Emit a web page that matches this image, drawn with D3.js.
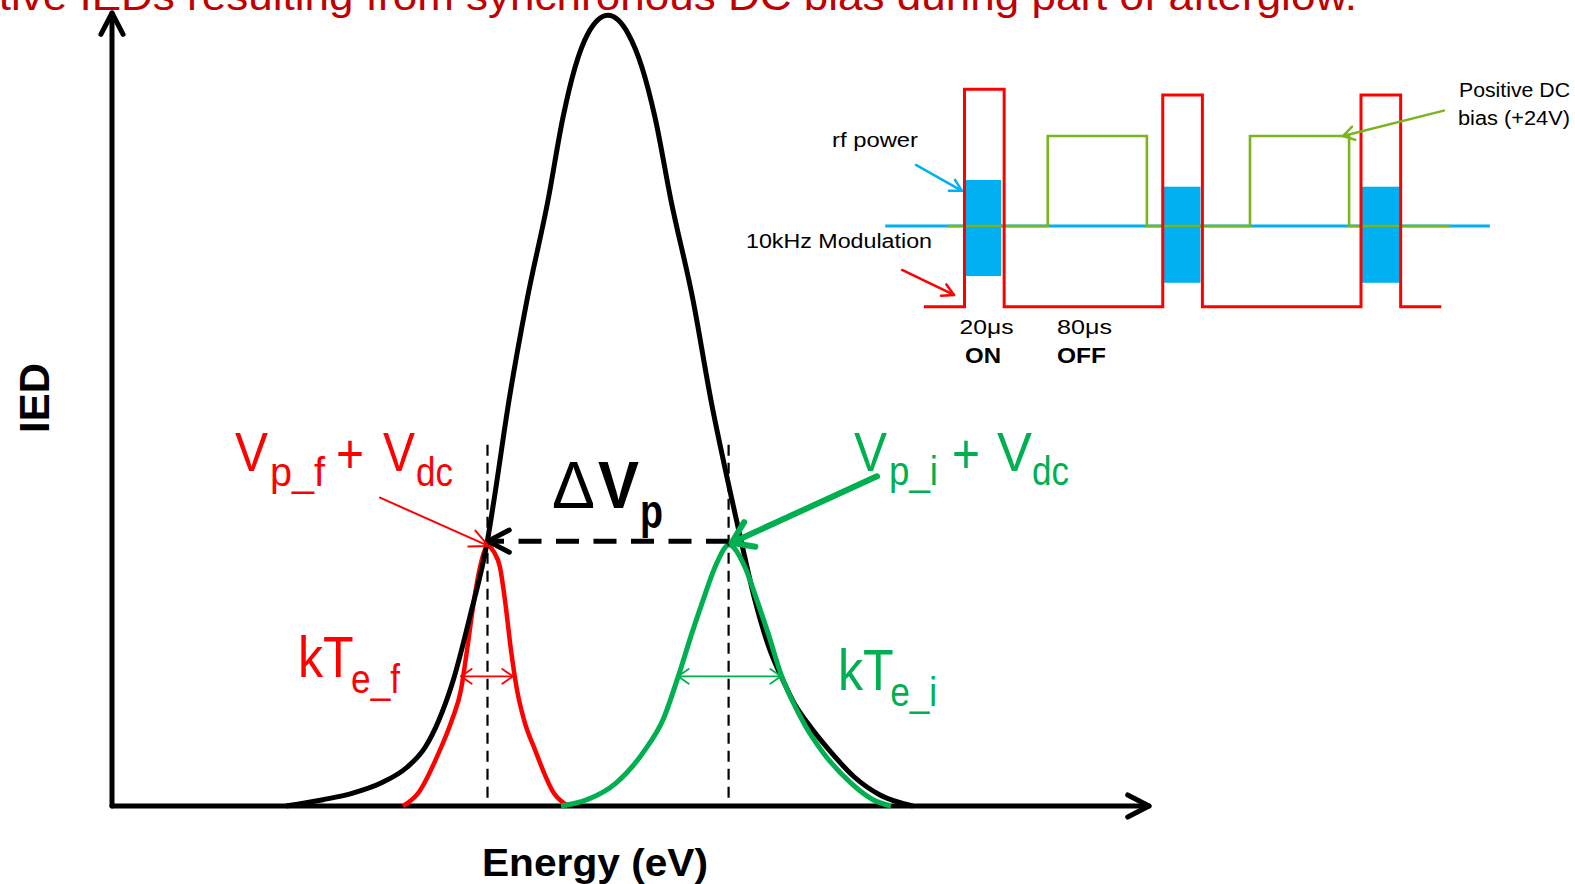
<!DOCTYPE html>
<html>
<head>
<meta charset="utf-8">
<script src="https://cdn.jsdelivr.net/npm/d3@7"></script>
<style>
  body { margin: 0; background: #fff; }
  svg { display: block; font-family: "Liberation Sans", Arial, sans-serif; }
</style>
</head>
<body>
<div id="chart"></div>
<script>
// ---- main IED schematic (energy in arbitrary units, IED normalised to 100 at the peak)
const blackE = [174, 211, 240, 269, 295, 313, 326, 341, 358, 375.5, 382, 397, 415, 436, 451, 463, 476, 496, 516, 530,
  543, 559, 581, 599, 620, 629, 643, 658, 671, 683, 695, 717, 742, 768, 801];
const blackIED = [0, 0.8, 1.6, 2.9, 4.9, 7.4, 10.6, 15.8, 24.0, 33.6, 38.7, 51.3, 64.0, 76.6, 87.1, 93.4, 97.7, 100, 97.7, 93.4,
  87.1, 76.6, 64.0, 51.3, 38.7, 33.6, 26.0, 19.7, 15.9, 12.8, 10.6, 7.1, 3.7, 1.4, 0];

const redE = [291, 306, 328, 340, 349, 355, 362, 368, 376, 382, 388, 393, 399, 405, 412, 423, 442, 456];
const redIED = [0, 1.6, 7.1, 10.9, 14.7, 19.7, 26.0, 30.2, 32.9, 32.1, 30.2, 26.0, 19.7, 14.7, 10.9, 7.1, 1.6, 0];

const greenE = [449, 475, 504, 533, 551, 566, 580, 591, 603, 617, 633, 645, 656, 670, 680, 693, 709, 739, 761, 779];
const greenIED = [0, 0.8, 2.9, 7.1, 10.9, 16.3, 21.9, 26.0, 30.2, 33.0, 30.2, 26.0, 21.9, 16.3, 13.4, 10.2, 7.1, 2.9, 0.8, 0];

const peakMarkerE = [375.5, 616.6];
const peakMarkerTop = 45.7;
const deltaVpE = [617, 388];
const deltaVpIED = 33.5;
const kTeFSpan = [349, 401];
const kTeISpan = [566, 669];
const kTIED = 16.4;
const redPointer = [[268, 39.0], [376.3, 32.9]];
const greenPointer = [[765, 41.7], [619.7, 33.3]];

// ---- inset: 10 kHz modulation (time in µs)
const pulseStart = [0, 100, 200];
const pulseWidth = 20;
const pulseHigh = [100, 97.4, 97.4];
const modSpan = [-20.5, 240.5];
const rfStart = [0, 100.5, 200.5];
const rfEnd = [18.5, 119, 219.5];
const rfLow = [14.1, 11.0, 11.0];
const rfHigh = [58.3, 55.2, 55.2];
const baseLevel = 37.1;
const baseSpan = [-40, 265];
const biasOn = [42, 144];
const biasOff = [92, 194];
const biasHigh = 78.5;
const biasSpan = [-8.8, 245];
const bluePointer = [[-24.5, 65.2], [-1.3, 53.3]];
const modPointer = [[-31.5, 16.9], [-5.3, 5.4]];
const biasPointer = [[241.8, 90.2], [190.9, 78.5]];

const W = 1575, H = 884;
const RED = '#ff0000', GREEN = '#00b050', BLUE = '#00b0f0', LIME = '#7ab51d';

const svg = d3.select('#chart').append('svg')
  .attr('width', W).attr('height', H);
svg.append('rect').attr('width', W).attr('height', H).attr('fill', '#fff');

const x = d3.scaleLinear().domain([0, 1037]).range([112, 1149]);
const y = d3.scaleLinear().domain([0, 100.3]).range([806, 13]);

function arrowHead(g, x1, y1, x2, y2, len, ang, color, sw) {
  const a = Math.atan2(y2 - y1, x2 - x1);
  const p = d3.path();
  p.moveTo(x2 - len * Math.cos(a - ang), y2 - len * Math.sin(a - ang));
  p.lineTo(x2, y2);
  p.lineTo(x2 - len * Math.cos(a + ang), y2 - len * Math.sin(a + ang));
  g.append('path').attr('d', p.toString())
    .attr('fill', 'none').attr('stroke', color).attr('stroke-width', sw)
    .attr('stroke-linecap', 'round').attr('stroke-linejoin', 'round');
}

function arrow(g, x1, y1, x2, y2, o) {
  const ln = g.append('line')
    .attr('x1', x1).attr('y1', y1).attr('x2', x2).attr('y2', y2)
    .attr('stroke', o.color).attr('stroke-width', o.sw)
    .attr('stroke-linecap', o.dash ? 'butt' : 'round');
  if (o.dash) ln.attr('stroke-dasharray', o.dash);
  arrowHead(g, x1, y1, x2, y2, o.len, o.ang, o.color, o.sw);
  if (o.both) arrowHead(g, x2, y2, x1, y1, o.len, o.ang, o.color, o.sw);
}

// title (cut off at the top of the slide)
svg.append('text')
  .attr('x', 1357).attr('y', 10)
  .attr('text-anchor', 'end')
  .attr('font-size', 40)
  .attr('fill', '#c00000')
  .attr('textLength', 1444).attr('lengthAdjust', 'spacingAndGlyphs')
  .text('Positive IEDs resulting from synchronous DC bias during part of afterglow.');

// axes
const axes = svg.append('g');
arrow(axes, x(0), y(0), x(0), y(100.3), { color: '#000', sw: 5, len: 24, ang: 0.48 });
arrow(axes, x(0), y(0), x(1037), y(0), { color: '#000', sw: 5, len: 24, ang: 0.48 });

const line = d3.line().curve(d3.curveMonotoneX);
const pts = (es, vs) => es.map((e, i) => [x(e), y(vs[i])]);

svg.append('path').attr('d', line(pts(redE, redIED)))
  .attr('fill', 'none').attr('stroke', RED).attr('stroke-width', 4.5);
svg.append('path').attr('d', line(pts(blackE, blackIED)))
  .attr('fill', 'none').attr('stroke', '#000').attr('stroke-width', 5);
svg.append('path').attr('d', line(pts(greenE, greenIED)))
  .attr('fill', 'none').attr('stroke', GREEN).attr('stroke-width', 5);

// dashed peak markers
svg.append('g').selectAll('line').data(peakMarkerE).join('line')
  .attr('x1', d => x(d)).attr('x2', d => x(d))
  .attr('y1', y(peakMarkerTop)).attr('y2', y(0))
  .attr('stroke', '#000').attr('stroke-width', 2.2)
  .attr('stroke-dasharray', '11,7');

// annotations
const ann = svg.append('g');
arrow(ann, x(deltaVpE[0]), y(deltaVpIED), x(deltaVpE[1]) - 12, y(deltaVpIED),
  { color: '#000', sw: 5, len: 24, ang: 0.48, dash: '23,14.5' });
arrow(ann, x(kTeFSpan[0]), y(kTIED), x(kTeFSpan[1]), y(kTIED),
  { color: RED, sw: 1.8, len: 13, ang: 0.6, both: true });
arrow(ann, x(kTeISpan[0]), y(kTIED), x(kTeISpan[1]), y(kTIED),
  { color: GREEN, sw: 1.8, len: 13, ang: 0.6, both: true });
arrow(ann, x(redPointer[0][0]), y(redPointer[0][1]), x(redPointer[1][0]), y(redPointer[1][1]),
  { color: RED, sw: 2, len: 20, ang: 0.45 });
arrow(ann, x(greenPointer[0][0]), y(greenPointer[0][1]), x(greenPointer[1][0]), y(greenPointer[1][1]),
  { color: GREEN, sw: 6, len: 24, ang: 0.6 });

function label(parts, color) {
  const g = svg.append('g').attr('fill', color);
  parts.forEach(p => {
    const t = g.append('text')
      .attr('x', p.x).attr('y', p.y)
      .attr('font-size', p.size)
      .attr('font-weight', p.bold ? 'bold' : 'normal')
      .text(p.t);
    if (p.w) t.attr('textLength', p.w).attr('lengthAdjust', 'spacingAndGlyphs');
  });
}

// main text plus subscript in one text element, squeezed horizontally
function subLabel(x0, y0, main, sub, color, dx) {
  const t = svg.append('text')
    .attr('transform', `translate(${x0},${y0}) scale(0.88,1)`)
    .attr('fill', color);
  t.append('tspan').attr('font-size', 57).text(main);
  t.append('tspan').attr('font-size', 40).attr('dx', dx).attr('dy', 16).text(sub);
}

label([
  { t: 'V', x: 235, y: 471, size: 56, w: 33 },
  { t: 'p_f', x: 270, y: 486, size: 40, w: 55 },
  { t: '+', x: 336, y: 473, size: 56, w: 28 },
  { t: 'V', x: 383, y: 471, size: 56, w: 32 },
  { t: 'dc', x: 416, y: 486, size: 40, w: 37 },
], RED);
label([
  { t: 'V', x: 854, y: 471, size: 56, w: 33 },
  { t: 'p_i', x: 889, y: 485, size: 40, w: 49 },
  { t: '+', x: 952, y: 473, size: 56, w: 28 },
  { t: 'V', x: 997, y: 471, size: 56, w: 35 },
  { t: 'dc', x: 1032, y: 485, size: 40, w: 37 },
], GREEN);
subLabel(298, 677, 'kT', 'e_f', RED, -3);
subLabel(838, 690, 'kT', 'e_i', GREEN, -4);
label([
  { t: '\u0394', x: 552, y: 508, size: 66, w: 43 },
  { t: 'V', x: 598, y: 508, size: 66, w: 41, bold: true },
  { t: 'p', x: 640, y: 528, size: 48, w: 23, bold: true },
], '#000');

// axis titles
svg.append('text')
  .attr('transform', 'translate(49,398) rotate(-90)')
  .attr('text-anchor', 'middle')
  .attr('font-size', 43).attr('font-weight', 'bold')
  .attr('textLength', 70).attr('lengthAdjust', 'spacingAndGlyphs')
  .text('IED');
svg.append('text')
  .attr('x', 482).attr('y', 876)
  .attr('font-size', 39).attr('font-weight', 'bold')
  .attr('textLength', 226).attr('lengthAdjust', 'spacingAndGlyphs')
  .text('Energy (eV)');

// ---- inset waveform
const xi = d3.scaleLinear().domain([0, 200]).range([964.5, 1361]);
const yi = d3.scaleLinear().domain([0, 100]).range([306.7, 89.3]);
const inset = svg.append('g');

inset.append('line')
  .attr('x1', xi(baseSpan[0])).attr('x2', xi(baseSpan[1]))
  .attr('y1', yi(baseLevel)).attr('y2', yi(baseLevel))
  .attr('stroke', BLUE).attr('stroke-width', 3);

inset.selectAll('rect.rf').data(rfStart).join('rect')
  .attr('class', 'rf')
  .attr('x', (d, i) => xi(d))
  .attr('width', (d, i) => xi(rfEnd[i]) - xi(d))
  .attr('y', (d, i) => yi(rfHigh[i]))
  .attr('height', (d, i) => yi(rfLow[i]) - yi(rfHigh[i]))
  .attr('fill', BLUE);

const step = d3.line();
const biasPts = [[xi(biasSpan[0]), yi(baseLevel)]];
biasOn.forEach((t, i) => {
  biasPts.push([xi(t), yi(baseLevel)], [xi(t), yi(biasHigh)],
    [xi(biasOff[i]), yi(biasHigh)], [xi(biasOff[i]), yi(baseLevel)]);
});
biasPts.push([xi(biasSpan[1]), yi(baseLevel)]);
inset.append('path').attr('d', step(biasPts))
  .attr('fill', 'none').attr('stroke', LIME).attr('stroke-width', 2.6);

const modPts = [[xi(modSpan[0]), yi(0)]];
pulseStart.forEach((t, i) => {
  modPts.push([xi(t), yi(0)], [xi(t), yi(pulseHigh[i])],
    [xi(t + pulseWidth), yi(pulseHigh[i])], [xi(t + pulseWidth), yi(0)]);
});
modPts.push([xi(modSpan[1]), yi(0)]);
inset.append('path').attr('d', step(modPts))
  .attr('fill', 'none').attr('stroke', RED).attr('stroke-width', 3);

arrow(inset, xi(bluePointer[0][0]), yi(bluePointer[0][1]), xi(bluePointer[1][0]), yi(bluePointer[1][1]),
  { color: BLUE, sw: 2.5, len: 13, ang: 0.5 });
arrow(inset, xi(modPointer[0][0]), yi(modPointer[0][1]), xi(modPointer[1][0]), yi(modPointer[1][1]),
  { color: RED, sw: 2.5, len: 13, ang: 0.5 });
arrow(inset, xi(biasPointer[0][0]), yi(biasPointer[0][1]), xi(biasPointer[1][0]), yi(biasPointer[1][1]),
  { color: LIME, sw: 2.5, len: 13, ang: 0.55 });

const insetLabels = [
  { t: 'rf power', x: 832, y: 147, size: 20, w: 86 },
  { t: '10kHz Modulation', x: 746, y: 248, size: 20, w: 186 },
  { t: '20\u03bcs', x: 959.5, y: 334, size: 21, w: 54 },
  { t: '80\u03bcs', x: 1057, y: 334, size: 21, w: 55 },
  { t: 'ON', x: 965, y: 362.5, size: 22, w: 36, bold: true },
  { t: 'OFF', x: 1057, y: 362.5, size: 22, w: 49, bold: true },
  { t: 'Positive DC', x: 1459, y: 97, size: 20, w: 111 },
  { t: 'bias (+24V)', x: 1458, y: 125, size: 20, w: 112 },
];
label(insetLabels, '#000');
</script>
</body>
</html>
